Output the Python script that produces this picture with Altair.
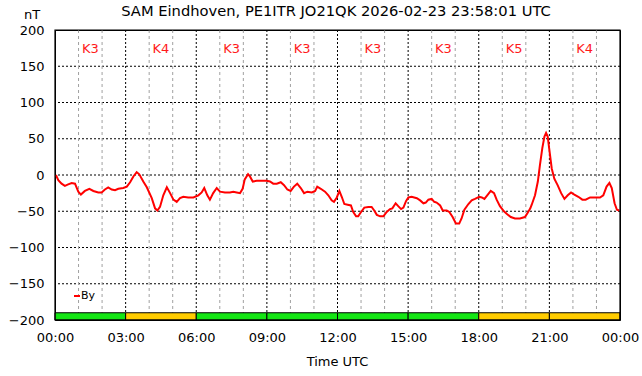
import altair as alt
import pandas as pd

# ---- data ----
hours = [0.04, 0.14, 0.28, 0.42, 0.56, 0.71, 0.85, 0.99, 1.10, 1.27,
         1.46, 1.63, 1.84, 1.98, 2.12, 2.26, 2.41, 2.55, 2.69, 2.90,
         3.05, 3.19, 3.33, 3.47, 3.58, 3.75, 3.90, 4.11, 4.25, 4.35,
         4.46, 4.60, 4.75, 4.89, 5.03, 5.17, 5.31, 5.45, 5.66, 5.88,
         6.09, 6.23, 6.34, 6.47, 6.58, 6.72, 6.87, 7.01, 7.22, 7.43,
         7.57, 7.72, 7.86, 7.97, 8.06, 8.20, 8.28, 8.40, 8.57, 8.78,
         8.99, 9.13, 9.27, 9.42, 9.59, 9.73, 9.87, 10.01, 10.15, 10.29,
         10.44, 10.58, 10.72, 10.91, 11.05, 11.14, 11.29, 11.47, 11.61, 11.75,
         11.85, 11.97, 12.08, 12.18, 12.29, 12.43, 12.57, 12.67, 12.79, 12.88,
         13.00, 13.14, 13.31, 13.45, 13.56, 13.67, 13.81, 13.95, 14.09, 14.23,
         14.33, 14.47, 14.58, 14.70, 14.80, 14.91, 15.01, 15.15, 15.37, 15.51,
         15.65, 15.75, 15.86, 16.00, 16.11, 16.21, 16.36, 16.47, 16.64, 16.75,
         16.89, 17.03, 17.17, 17.27, 17.39, 17.56, 17.70, 17.84, 18.02, 18.13,
         18.24, 18.36, 18.51, 18.65, 18.76, 18.90, 19.07, 19.21, 19.36, 19.54,
         19.75, 19.96, 20.08, 20.19, 20.25, 20.39, 20.51, 20.60, 20.70, 20.79,
         20.86, 20.93, 20.99, 21.10, 21.21, 21.35, 21.50, 21.64, 21.78, 21.92,
         22.06, 22.23, 22.40, 22.54, 22.73, 22.94, 23.15, 23.29, 23.43, 23.55,
         23.65, 23.77, 23.87, 23.97]
by_values = [0, -7, -12, -15, -13, -11, -12, -23, -27, -22,
             -19, -22, -24, -24, -20, -17, -20, -21, -19, -18,
             -16, -10, -2, 4, 1, -9, -17, -32, -46, -49,
             -44, -28, -17, -25, -34, -37, -32, -30, -31, -31,
             -28, -24, -18, -28, -34, -25, -18, -23, -24, -24,
             -23, -24, -25, -19, -6, 1, -2, -9, -8, -8,
             -8, -9, -12, -12, -10, -14, -20, -22, -16, -12,
             -18, -25, -23, -24, -22, -16, -19, -23, -28, -35,
             -37, -31, -22, -30, -40, -41, -42, -51, -57, -57,
             -51, -45, -44, -44, -49, -55, -57, -57, -51, -47,
             -46, -39, -43, -47, -45, -36, -31, -30, -32, -35,
             -39, -38, -34, -33, -37, -38, -42, -49, -49, -51,
             -58, -67, -67, -60, -48, -40, -35, -33, -30, -31,
             -33, -28, -22, -25, -34, -43, -50, -54, -58, -60,
             -60, -58, -52, -46, -41, -28, -9, 14, 37, 53,
             58, 53, 37, 9, -5, -14, -25, -33, -28, -24,
             -27, -30, -34, -34, -31, -31, -31, -28, -16, -11,
             -18, -39, -48, -49]

k_start = [0, 3, 6, 9, 12, 15, 18, 21]
k_labels = ["K3", "K4", "K3", "K3", "K3", "K3", "K5", "K4"]

x_ticks = [0, 3, 6, 9, 12, 15, 18, 21, 24]
x_minor = [1, 2, 4, 5, 7, 8, 10, 11, 13, 14, 16, 17, 19, 20, 22, 23]
x_major = [3, 6, 9, 12, 15, 18, 21]
y_ticks = [-200, -150, -100, -50, 0, 50, 100, 150, 200]
y_grid = [-150, -100, -50, 0, 50, 100, 150]

title_text = "SAM Eindhoven, PE1ITR JO21QK 2026-02-23 23:58:01 UTC"

FONT = "DejaVu Sans"
W, H = 565, 290

df = pd.DataFrame({"h": hours, "by": by_values})
kdf = pd.DataFrame({"s": k_start, "k": k_labels})
kdf["e"] = kdf["s"] + 3
kdf["m"] = kdf["s"] + 1.5

xs = alt.Scale(domain=[0, 24], nice=False, zero=False)
ys = alt.Scale(domain=[-200, 200], nice=False, zero=False)

x_axis = alt.Axis(values=x_ticks, title=None, grid=False, ticks=False, tickSize=0,
                  domain=False, labelFont=FONT, labelFontSize=13, labelColor="black",
                  labelPadding=11, labelFlush=False, labelOverlap=False,
                  labelExpr="(datum.value % 24 < 10 ? '0' : '') + (datum.value % 24) + ':00'")
y_axis = alt.Axis(values=y_ticks, title=None, grid=False, ticks=False, tickSize=0,
                  domain=False, labelFont=FONT, labelFontSize=13, labelColor="black",
                  labelPadding=11, labelOverlap=False, labelFlush=False)

hgrid = alt.Chart(pd.DataFrame({"v": y_grid})).mark_rule(
    color="black", strokeDash=[2, 2], strokeWidth=1).encode(
    y=alt.Y("v:Q", scale=ys, axis=y_axis))
vminor = alt.Chart(pd.DataFrame({"v": x_minor})).mark_rule(
    color="#a0a0a0", strokeDash=[3, 3], strokeWidth=1).encode(
    x=alt.X("v:Q", scale=xs, axis=x_axis))
vmajor = alt.Chart(pd.DataFrame({"v": x_major})).mark_rule(
    color="black", strokeDash=[2, 2], strokeWidth=1).encode(
    x=alt.X("v:Q", scale=xs, axis=x_axis))

kbars = alt.Chart(kdf).mark_rect(stroke="black", strokeWidth=1).encode(
    x=alt.X("s:Q", scale=xs, axis=x_axis), x2="e:Q",
    y=alt.Y(datum=-200, scale=ys, axis=y_axis), y2=alt.Y2(datum=-190),
    color=alt.Color("k:N", scale=alt.Scale(domain=["K3", "K4", "K5"],
                                           range=["#14e614", "#ffcc00", "#ffcc00"]),
                    legend=None))
ktext = alt.Chart(kdf).mark_text(color="#ff1a1a", font=FONT, fontSize=13,
                                 baseline="middle", align="center").encode(
    x=alt.X("m:Q", scale=xs, axis=x_axis),
    y=alt.Y(datum=174, scale=ys, axis=y_axis), text="k:N")

line = alt.Chart(df).mark_line(color="#ff0000", strokeWidth=2).encode(
    x=alt.X("h:Q", scale=xs, axis=x_axis),
    y=alt.Y("by:Q", scale=ys, axis=y_axis))

frame = alt.Chart(pd.DataFrame({"a": [0]})).mark_rect(
    fillOpacity=0, stroke="black", strokeWidth=1.2).encode(
    x=alt.value(0), x2=alt.value(W), y=alt.value(0), y2=alt.value(H))

leg_line = alt.Chart(pd.DataFrame({"a": [0]})).mark_rule(color="#ff0000", strokeWidth=2).encode(
    x=alt.value(19), x2=alt.value(25), y=alt.value(266))
leg_text = alt.Chart(pd.DataFrame({"t": ["By"]})).mark_text(
    font=FONT, fontSize=11, align="left", baseline="middle", color="black").encode(
    x=alt.value(26), y=alt.value(266), text="t:N")

title = alt.Chart(pd.DataFrame({"t": [title_text]})).mark_text(
    font=FONT, fontSize=14.7, align="center", baseline="middle", color="black").encode(
    x=alt.value(W / 2 - 1.5), y=alt.value(-18), text="t:N")
nt = alt.Chart(pd.DataFrame({"t": ["nT"]})).mark_text(
    font=FONT, fontSize=13, align="center", baseline="middle", color="black").encode(
    x=alt.value(-23), y=alt.value(-15), text="t:N")
xtitle = alt.Chart(pd.DataFrame({"t": ["Time UTC"]})).mark_text(
    font=FONT, fontSize=13, align="center", baseline="middle", color="black").encode(
    x=alt.value(W / 2), y=alt.value(332), text="t:N")

chart = alt.layer(hgrid, vminor, vmajor, kbars, ktext, line, frame, leg_line, leg_text,
                  title, nt, xtitle).properties(
    width=W, height=H,
    autosize=alt.AutoSizeParams(type="none"),
    padding={"left": 55, "top": 30, "right": 22, "bottom": 56},
    background="white",
).configure_view(stroke="black", strokeWidth=1)

chart.save("out.html", embed_options={"renderer": "svg", "actions": False})
